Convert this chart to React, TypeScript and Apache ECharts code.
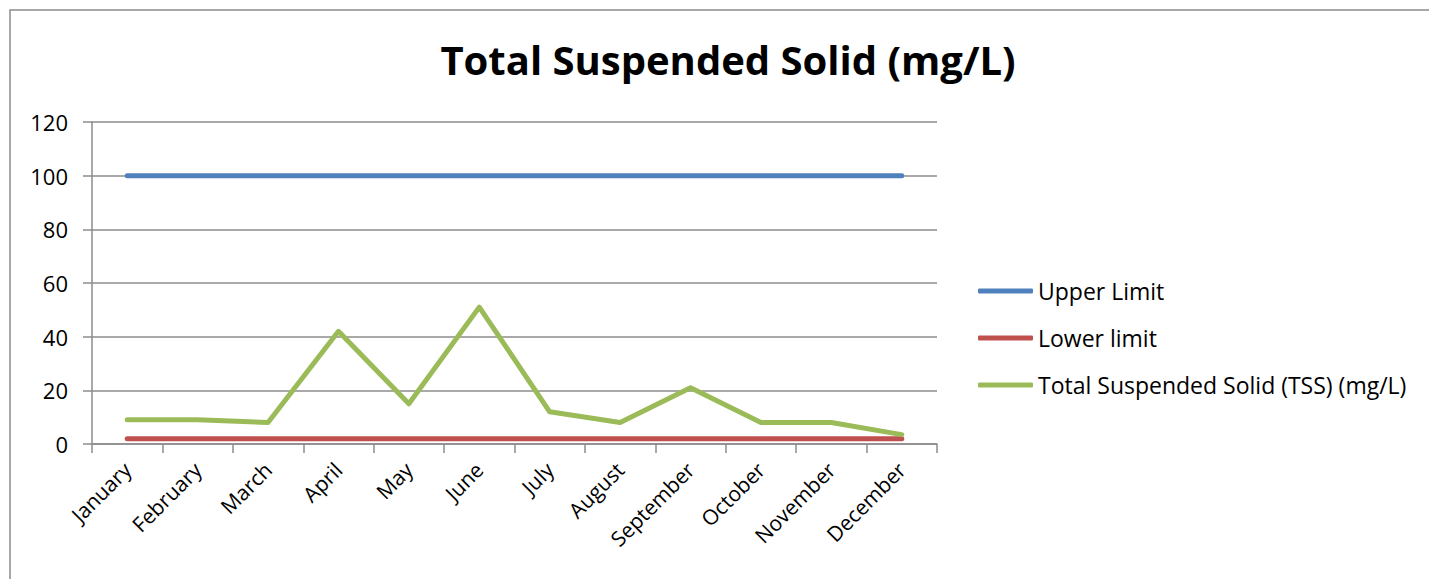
import React, { useEffect, useRef } from "react";
import * as echarts from "echarts";

const months = ["January", "February", "March", "April", "May", "June", "July", "August", "September", "October", "November", "December"];
const upperLimit = [100, 100, 100, 100, 100, 100, 100, 100, 100, 100, 100, 100];
const lowerLimit = [2, 2, 2, 2, 2, 2, 2, 2, 2, 2, 2, 2];
const tss = [9, 9, 8, 42, 15, 51, 12, 8, 21, 8, 8, 3.5];
const seriesNames = ["Upper Limit", "Lower limit", "Total Suspended Solid (TSS) (mg/L)"];
const colors = ["#4F81BD", "#C0504D", "#9BBB59"];

export default function App() {
  const ref = useRef<HTMLDivElement>(null);
  useEffect(() => {
    document.body.style.margin = "0";
    const chart = echarts.init(ref.current!, null, { renderer: "svg" });
    const font = "'Open Sans', sans-serif";
    const mk = (name: string, data: number[], color: string) => ({
      name,
      type: "line",
      data,
      symbol: "none",
      smooth: false,
      lineStyle: { color, width: 5, cap: "round", join: "round" },
      itemStyle: { color },
    });
    chart.setOption({
      animation: false,
      color: colors,
      title: {
        text: "Total Suspended Solid (mg/L)",
        left: 723,
        textAlign: "center",
        top: 34,
        textStyle: { fontFamily: font, fontWeight: "bold", fontSize: 40, color: "#000" },
      },
      graphic: [
        {
          type: "rect",
          shape: { x: 10, y: 10, width: 1440, height: 600 },
          style: { fill: "none", stroke: "#8c8c8c", lineWidth: 1.5 },
          silent: true,
        },
      ],
      legend: {
        orient: "vertical",
        left: 973,
        top: 273,
        icon: "roundRect",
        itemWidth: 55,
        itemHeight: 5,
        itemGap: 21,
        data: seriesNames,
        textStyle: { fontFamily: font, fontSize: 23, color: "#000", lineHeight: 26 },
      },
      grid: { left: 92, right: 492, top: 122, bottom: 135, containLabel: false },
      xAxis: {
        type: "category",
        data: months,
        boundaryGap: true,
        axisLine: { lineStyle: { color: "#8c8c8c", width: 1.5 } },
        axisTick: { show: true, length: 9, alignWithLabel: false, lineStyle: { color: "#8c8c8c", width: 1.5 } },
        axisLabel: { rotate: 45, margin: 22, interval: 0, fontFamily: font, fontSize: 21, color: "#000" },
      },
      yAxis: {
        type: "value",
        min: 0,
        max: 120,
        interval: 20,
        axisLine: { show: true, lineStyle: { color: "#8c8c8c", width: 1.5 } },
        axisTick: { show: true, length: 9, lineStyle: { color: "#8c8c8c", width: 1.5 } },
        splitLine: { show: true, lineStyle: { color: "#8c8c8c", width: 1.5 } },
        axisLabel: { margin: 24, fontFamily: font, fontSize: 22, color: "#000" },
      },
      series: [
        mk(seriesNames[0], upperLimit, colors[0]),
        mk(seriesNames[1], lowerLimit, colors[1]),
        mk(seriesNames[2], tss, colors[2]),
      ],
    });
    return () => chart.dispose();
  }, []);
  return <div ref={ref} style={{ width: 1429, height: 579 }} />;
}
